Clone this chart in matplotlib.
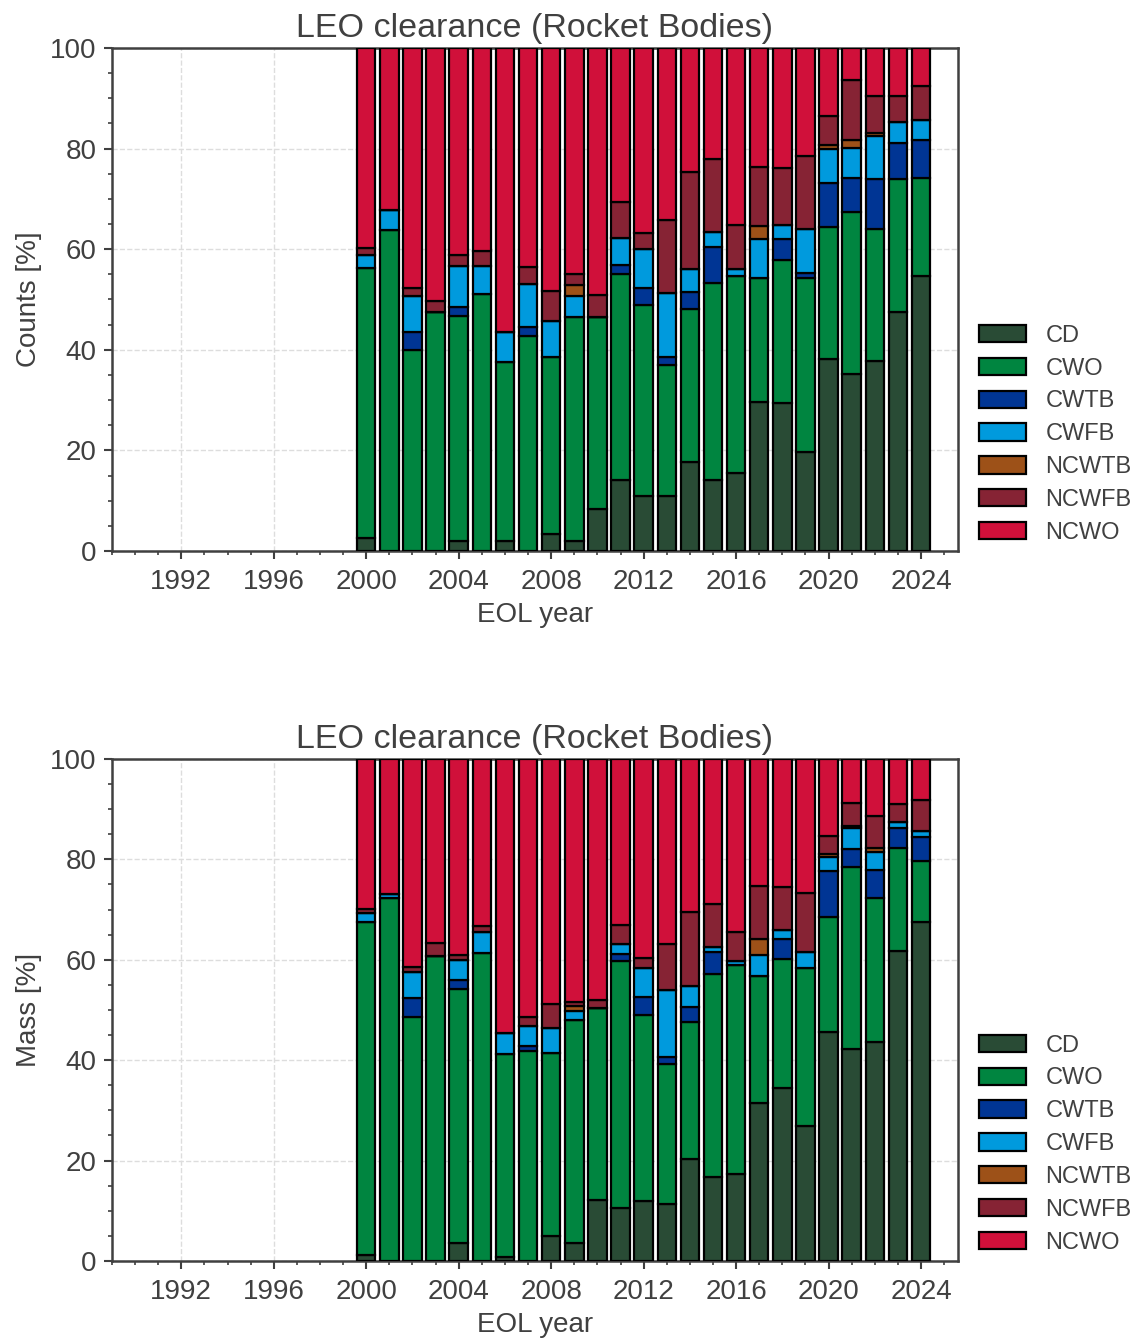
import matplotlib
matplotlib.use("Agg")
import matplotlib.pyplot as plt
from matplotlib.ticker import MultipleLocator
import numpy as np

years = [2000, 2001, 2002, 2003, 2004, 2005, 2006, 2007, 2008, 2009, 2010, 2011, 2012,
         2013, 2014, 2015, 2016, 2017, 2018, 2019, 2020, 2021, 2022, 2023, 2024]
labels = ["CD", "CWO", "CWTB", "CWFB", "NCWTB", "NCWFB", "NCWO"]
colors = ["#294b35", "#008540", "#003594", "#009add", "#9d5118", "#862334", "#d0103a"]

# counts [%]
cnt_cd = [2.6, 0, 0, 0, 1.9, 0, 1.9, 0, 3.4, 1.9, 8.3, 14.1, 10.9, 10.9, 17.6, 14.2, 15.6, 29.6, 29.4, 19.7, 38.2, 35.1, 37.8, 47.6, 54.7]
cnt_cwo = [53.6, 63.8, 40.0, 47.6, 44.8, 51.1, 35.7, 42.7, 35.2, 44.6, 38.2, 40.9, 38.0, 26.1, 30.6, 39.1, 39.1, 24.6, 28.5, 34.5, 26.3, 32.2, 26.3, 26.3, 19.5]
cnt_cwtb = [0, 0, 3.6, 0, 1.9, 0, 0, 1.8, 0, 0, 0, 1.9, 3.3, 1.6, 3.2, 7.2, 0, 0, 4.1, 1.0, 8.7, 6.9, 9.8, 7.3, 7.5]
cnt_cwfb = [2.7, 3.9, 7.0, 0, 8.1, 5.6, 6.0, 8.6, 7.2, 4.2, 0, 5.3, 7.8, 12.6, 4.6, 2.9, 1.3, 7.8, 2.9, 8.8, 6.7, 6.0, 8.5, 4.0, 4.0]
cnt_ncwtb = [0, 0, 0, 0, 0, 0, 0, 0, 0, 2.2, 0, 0, 0, 0, 0, 0, 0, 2.6, 0, 0, 0.9, 1.4, 0.6, 0, 0]
cnt_ncwfb = [1.4, 0, 1.6, 2.1, 2.2, 2.9, 0, 3.4, 5.8, 2.1, 4.3, 7.1, 3.3, 14.6, 19.4, 14.6, 8.9, 11.7, 11.3, 14.6, 5.7, 12.0, 7.5, 5.3, 6.8]
cnt_ncwo = [39.7, 32.3, 47.8, 50.3, 41.1, 40.4, 56.4, 43.5, 48.4, 45.0, 49.2, 30.7, 36.7, 34.2, 24.6, 22.0, 35.1, 23.7, 23.8, 21.4, 13.5, 6.4, 9.5, 9.5, 7.5]

# mass [%]
mass_cd = [1.2, 0, 0, 0, 3.5, 0, 0.7, 0, 5.0, 3.5, 12.2, 10.5, 12.0, 11.4, 20.3, 16.8, 17.3, 31.4, 34.4, 26.9, 45.7, 42.2, 43.6, 61.8, 67.6]
mass_cwo = [66.3, 72.2, 48.5, 60.8, 50.6, 61.4, 40.5, 41.9, 36.4, 44.4, 38.1, 49.3, 37.0, 27.8, 27.2, 40.4, 41.7, 25.4, 25.8, 31.5, 22.8, 36.2, 28.6, 20.4, 12.0]
mass_cwtb = [0, 0, 3.8, 0, 1.9, 0, 0, 0.9, 0, 0, 0, 1.3, 3.5, 1.4, 3.0, 4.4, 0, 0, 3.9, 0, 9.1, 3.7, 5.7, 4.1, 4.8]
mass_cwfb = [1.8, 0.9, 5.3, 0, 4.0, 4.2, 4.3, 4.0, 5.1, 1.8, 0, 2.0, 5.8, 13.4, 4.3, 1.0, 0.8, 4.2, 1.8, 3.2, 2.8, 4.1, 3.6, 1.2, 1.3]
mass_ncwtb = [0, 0, 0, 0, 0, 0, 0, 0, 0, 1.0, 0, 0, 0, 0, 0, 0, 0, 3.1, 0, 0, 0.6, 0.5, 0.7, 0, 0]
mass_ncwfb = [0.8, 0, 1.0, 2.6, 1.0, 1.1, 0, 1.7, 4.6, 0.8, 1.7, 3.8, 2.1, 9.1, 14.8, 8.6, 5.8, 10.6, 8.5, 11.6, 3.7, 4.6, 6.5, 3.5, 6.1]
mass_ncwo = [29.9, 26.9, 41.4, 36.6, 39.0, 33.3, 54.5, 51.5, 48.9, 48.5, 48.0, 33.1, 39.6, 36.9, 30.4, 28.8, 34.4, 25.3, 25.6, 26.8, 15.3, 8.7, 11.3, 9.0, 8.2]

txt = "#404040"
plt.rcParams["font.family"] = ["Liberation Sans", "DejaVu Sans"]
plt.rcParams["text.color"] = txt
plt.rcParams["axes.labelcolor"] = txt
plt.rcParams["xtick.color"] = txt
plt.rcParams["ytick.color"] = txt


def stacked(ax, series, ylabel):
    bottom = np.zeros(len(years))
    for vals, lab, col in zip(series, labels, colors):
        ax.bar(years, vals, bottom=bottom, width=0.8, color=col, edgecolor="black",
               linewidth=1.6, label=lab, zorder=3)
        bottom = bottom + np.array(vals)
    ax.set_xlim(1989, 2025.6)
    ax.set_ylim(0, 100)
    ax.set_xticks([1992, 1996, 2000, 2004, 2008, 2012, 2016, 2020, 2024])
    ax.xaxis.set_minor_locator(MultipleLocator(1))
    ax.yaxis.set_major_locator(MultipleLocator(20))
    ax.yaxis.set_minor_locator(MultipleLocator(5))
    ax.tick_params(which="major", direction="out", length=6, width=1.5, labelsize=20, pad=5)
    ax.tick_params(axis="x", which="major", pad=7)
    ax.tick_params(which="minor", direction="out", length=3, width=1.2)
    ax.grid(True, which="major", linestyle="--", color="#dddddd", linewidth=1, zorder=0)
    for s in ax.spines.values():
        s.set_color(txt)
        s.set_linewidth(1.8)
    ax.set_title("LEO clearance (Rocket Bodies)", fontsize=24.5, pad=8)
    ax.set_xlabel("EOL year", fontsize=20, labelpad=5)
    ax.set_ylabel(ylabel, fontsize=20, labelpad=6)
    ax.legend(loc="lower left", bbox_to_anchor=(1.0, -0.028), frameon=False, fontsize=17,
              handlelength=2.0, handleheight=0.75, labelspacing=0.46, handletextpad=0.8)


fig = plt.figure(figsize=(11.39, 13.39), dpi=100)
ax1 = fig.add_axes([0.0983, 0.5885, 0.7428, 0.3757])
ax2 = fig.add_axes([0.0983, 0.0583, 0.7428, 0.3749])

stacked(ax1, [cnt_cd, cnt_cwo, cnt_cwtb, cnt_cwfb, cnt_ncwtb, cnt_ncwfb, cnt_ncwo], "Counts [%]")
stacked(ax2, [mass_cd, mass_cwo, mass_cwtb, mass_cwfb, mass_ncwtb, mass_ncwfb, mass_ncwo], "Mass [%]")

fig.savefig("out.png", dpi=100)
